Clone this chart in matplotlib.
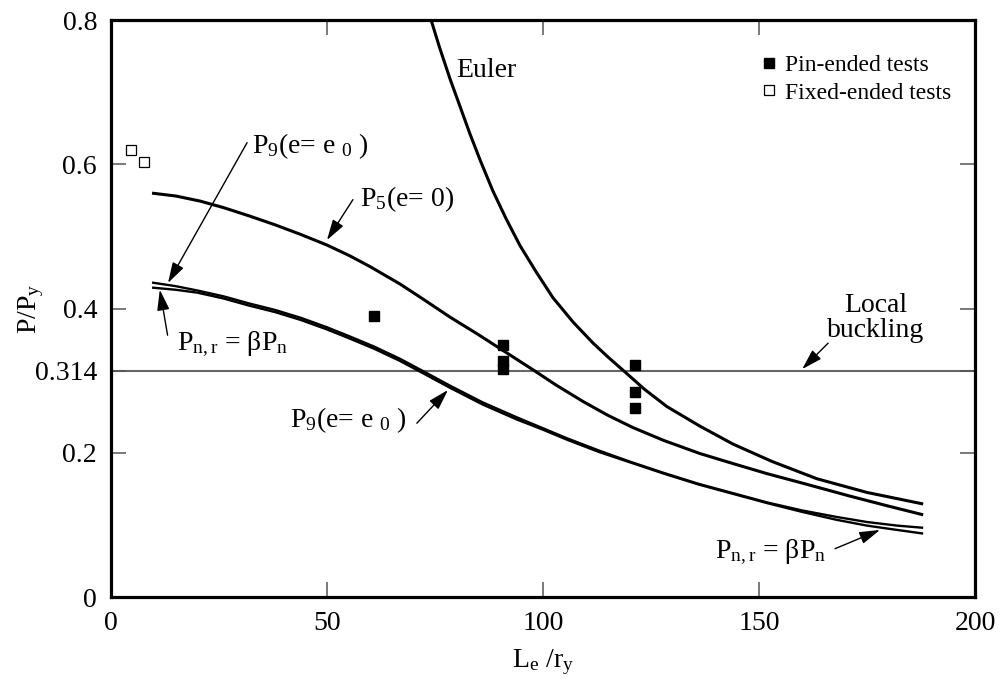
import numpy as np
import matplotlib
matplotlib.use("Agg")
import matplotlib.pyplot as plt

plt.rcParams['font.family'] = ['Liberation Serif', 'DejaVu Serif']
plt.rcParams['mathtext.fontset'] = 'custom'
plt.rcParams['mathtext.rm'] = 'Liberation Serif'
plt.rcParams['mathtext.it'] = 'Liberation Serif'
plt.rcParams['mathtext.default'] = 'regular'

euler_x = [74.1, 76.0, 78.5, 80.5, 83.1, 85.5, 88.4, 91.5, 94.7, 98.5, 102.3, 107.0,
           111.6, 115.0, 118.8, 123.5, 128.7, 136.3, 144.0, 153.0, 163.4, 175.0, 188.0]
euler_y = [0.800, 0.763, 0.718, 0.685, 0.642, 0.605, 0.563, 0.524, 0.487, 0.450, 0.415, 0.381,
           0.352, 0.333, 0.313, 0.288, 0.264, 0.237, 0.212, 0.188, 0.164, 0.145, 0.129]

p5_x = [9.5, 15.0, 20.6, 26.0, 32.2, 38.0, 43.8, 50.0, 55.3, 60.0, 66.9, 72.0, 78.5, 85.0,
        90.7, 97.7, 103.0, 109.3, 115.0, 120.8, 128.0, 136.3, 144.0, 151.9, 160.0, 171.0,
        180.0, 188.0]
p5_y = [0.560, 0.556, 0.549, 0.540, 0.528, 0.516, 0.503, 0.488, 0.473, 0.458, 0.434, 0.414,
        0.388, 0.364, 0.342, 0.315, 0.294, 0.271, 0.252, 0.235, 0.217, 0.199, 0.185, 0.171,
        0.158, 0.140, 0.126, 0.114]

bundle_x = [9.5, 15.0, 20.0, 26.0, 32.0, 38.0, 44.0, 50.0, 55.0, 61.0, 67.0, 72.0, 78.5,
            86.0, 94.0, 100.0, 105.6, 113.0, 120.0, 128.0, 136.0, 144.0, 152.0, 160.0,
            168.0, 175.0, 182.0, 188.0]
p9_y = [0.436, 0.431, 0.425, 0.417, 0.407, 0.398, 0.387, 0.374, 0.362, 0.347, 0.330, 0.314,
        0.293, 0.270, 0.249, 0.234, 0.220, 0.203, 0.188, 0.172, 0.157, 0.144, 0.131, 0.120,
        0.111, 0.104, 0.099, 0.096]
pnr_y = [0.429, 0.426, 0.422, 0.414, 0.404, 0.395, 0.384, 0.371, 0.359, 0.344, 0.327, 0.311,
         0.290, 0.267, 0.246, 0.232, 0.218, 0.201, 0.187, 0.171, 0.156, 0.143, 0.130, 0.118,
         0.107, 0.099, 0.093, 0.088]

# test results
pin_x = [60.9, 90.7, 90.7, 90.7, 121.3, 121.3, 121.3]
pin_y = [0.390, 0.350, 0.327, 0.316, 0.322, 0.284, 0.262]
fixed_x = [4.6, 7.6]
fixed_y = [0.620, 0.603]

local_buckling = 0.314

fig = plt.figure(figsize=(10, 6.86), dpi=100)
ax = fig.add_axes([0.111, 0.1297, 0.864, 0.8411])

ax.axhline(local_buckling, color='#666666', lw=1.5, zorder=1)
line_kw = dict(color='k', solid_joinstyle='round', solid_capstyle='butt')
ax.plot(euler_x, euler_y, lw=2.2, **line_kw)
ax.plot(p5_x, p5_y, lw=2.2, **line_kw)
ax.plot(bundle_x, p9_y, lw=1.7, **line_kw)
ax.plot(bundle_x, pnr_y, lw=1.7, **line_kw)

ax.plot(pin_x, pin_y, ls='none', marker='s', ms=7, mfc='k', mec='k',
        label='Pin-ended tests')
ax.plot(fixed_x, fixed_y, ls='none', marker='s', ms=7, mfc='white', mec='k',
        mew=0.9, label='Fixed-ended tests')

ax.set_xlim(0, 200)
ax.set_ylim(0, 0.8)
ax.set_xticks([0, 50, 100, 150, 200])
ax.set_yticks([0, 0.2, 0.314, 0.4, 0.6, 0.8])
ax.set_yticklabels(['0', '0.2', '0.314', '0.4', '0.6', '0.8'])
ax.set_xticklabels(['0', '50', '100', '150', '200'])
ax.tick_params(direction='in', length=11, width=1.1, color='#555555',
               labelsize=20, top=True, right=True, pad=10)
for s in ax.spines.values():
    s.set_linewidth(2.3)

ax.set_xlabel('L$_e$ /r$_y$', fontsize=20, labelpad=8)
ax.set_ylabel('P/P$_y$', fontsize=20, labelpad=-8)

ax.legend(loc='upper right', frameon=False, fontsize=17, handletextpad=0.2,
          handlelength=1.0, borderaxespad=0.6, labelspacing=0.25,
          bbox_to_anchor=(1.0, 0.981))

arrow = dict(arrowstyle='-|>,head_length=0.9,head_width=0.27', color='k',
             lw=1.0, shrinkA=0, shrinkB=0, mutation_scale=14)
fs = 20

ax.text(80.0, 0.73, 'Euler', fontsize=fs, va='center', ha='left')

ax.annotate('', xy=(13.2, 0.4355), xytext=(31.5, 0.630), arrowprops=arrow)
ax.text(32.6, 0.625, 'P$_9$(e= e $_0$ )', fontsize=fs, va='center', ha='left')

ax.annotate('', xy=(50.0, 0.495), xytext=(56.0, 0.551), arrowprops=arrow)
ax.text(57.6, 0.551, 'P$_5$(e= 0)', fontsize=fs, va='center', ha='left')

ax.annotate('', xy=(11.3, 0.426), xytext=(13.1, 0.363), arrowprops=arrow)
ax.text(15.3, 0.350, 'P$_{n,r}$ = βP$_n$', fontsize=fs, va='center', ha='left')

ax.annotate('', xy=(78.0, 0.287), xytext=(70.8, 0.241), arrowprops=arrow)
ax.text(41.4, 0.245, 'P$_9$(e= e $_0$ )', fontsize=fs, va='center', ha='left')

ax.annotate('', xy=(160.0, 0.316), xytext=(166.0, 0.352), arrowprops=arrow)
ax.text(177.0, 0.387, 'Local\nbuckling', fontsize=fs, va='center', ha='center',
        linespacing=1.0)

ax.annotate('', xy=(178.0, 0.093), xytext=(167.6, 0.067), arrowprops=arrow)
ax.text(139.8, 0.062, 'P$_{n,r}$ = βP$_n$', fontsize=fs, va='center', ha='left')

fig.savefig('out.png', dpi=100)
